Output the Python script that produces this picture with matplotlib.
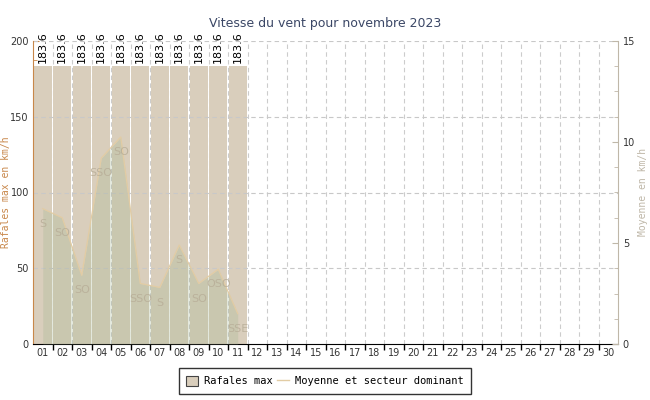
import matplotlib
matplotlib.use("Agg")
import matplotlib.pyplot as plt
import numpy as np
from matplotlib.patches import Patch
from matplotlib.lines import Line2D
from matplotlib.ticker import MultipleLocator, FixedLocator, NullFormatter

# donnees
jours = list(range(1, 31))
etiquettes = ["%02d" % j for j in jours]
rafales = [183.6] * 11
moyenne = [6.7, 6.25, 3.4, 9.2, 10.25, 3.0, 2.8, 4.9, 3.0, 3.7, 1.5]
secteurs = ["S", "SO", "SO", "SSO", "SO", "SSO", "S", "S", "SO", "OSO", "SSE"]

couleur_barre = "#d9cebc"
couleur_ligne = "#e2cca4"
couleur_gauche = "#c8874a"
couleur_droite = "#bfb7a8"
mono = "DejaVu Sans Mono"

fig = plt.figure(figsize=(6.5, 4), dpi=100)
ax = fig.add_axes([33 / 650, 56 / 400, 585 / 650, 303 / 400])
ax2 = ax.twinx()

# barres des rafales
jr = np.arange(1, len(rafales) + 1)
ax.bar(jr, rafales, width=0.9, color=couleur_barre, zorder=2)
for j, v in zip(jr, rafales):
    ax.text(j, v + 2, "%.1f" % v, rotation=90, ha="center", va="bottom",
            fontsize=8, color="black", zorder=5)

ax.set_xlim(0.5, 30.5)
ax.set_ylim(0, 200)
ax.yaxis.set_major_locator(MultipleLocator(50))
ax.yaxis.set_minor_locator(MultipleLocator(12.5))
ax.xaxis.set_major_locator(FixedLocator(np.arange(1.5, 30.5, 1)))
ax.xaxis.set_major_formatter(NullFormatter())
ax.xaxis.set_minor_locator(FixedLocator(jours))
ax.set_xticklabels(etiquettes, minor=True)
ax.tick_params(axis="x", which="major", direction="out", length=4, width=1, color="black")
ax.tick_params(axis="x", which="minor", length=0, labelsize=7, pad=3, labelcolor="#333333")
ax.tick_params(axis="y", which="both", direction="in", color=couleur_gauche, labelsize=7,
               labelcolor="#333333", pad=3)
ax.tick_params(axis="y", which="major", length=4)
ax.tick_params(axis="y", which="minor", length=3)

ax.grid(True, axis="x", which="major", color="#cccccc", linestyle=(0, (4, 3)), linewidth=0.8, zorder=1)
ax.set_axisbelow(True)
for yv in [50, 100, 150, 200]:
    ax.axhline(yv, color="#c8c8c8", linestyle=(0, (4, 3)), linewidth=0.8, zorder=2.5)

ax.spines["top"].set_visible(False)
ax.spines["left"].set_color(couleur_gauche)
ax.spines["bottom"].set_color("black")
ax.spines["right"].set_visible(False)

# moyenne et secteur
ax2.set_ylim(0, 15)
ax2.fill_between(jr, moyenne, color="#a7b794", alpha=0.3, linewidth=0, zorder=3)
ax2.plot(jr, moyenne, color=couleur_ligne, linewidth=0.9, zorder=4)
for j, m, s in zip(jr, moyenne, secteurs):
    ax2.text(j, m - 0.75, s, ha="center", va="center", fontsize=8, color="#b8ae98",
             alpha=0.85, zorder=5)
ax2.yaxis.set_major_locator(MultipleLocator(5))
ax2.yaxis.set_minor_locator(MultipleLocator(1.25))
ax2.tick_params(axis="y", which="both", direction="in", color=couleur_droite, labelsize=7,
                labelcolor="#333333")
ax2.tick_params(axis="y", which="major", length=4)
ax2.tick_params(axis="y", which="minor", length=3)
for s in ["top", "left", "bottom"]:
    ax2.spines[s].set_visible(False)
ax2.spines["right"].set_color(couleur_droite)

# titres des axes places a la main pour rester dans l'image
fig.text(6 / 650, 1 - 192 / 400, "Rafales max en km/h", rotation=90, ha="center", va="center",
         fontsize=7, family=mono, color=couleur_gauche)
fig.text(643 / 650, 1 - 192 / 400, "Moyenne en km/h", rotation=90, ha="center", va="center",
         fontsize=7, family=mono, color=couleur_droite)

fig.text(325 / 650, 1 - 24 / 400, "Vitesse du vent pour novembre 2023", ha="center", va="center",
         fontsize=9, color="#3b4766")

poignees = [Patch(facecolor=couleur_barre, edgecolor="#444444", linewidth=0.8),
            Line2D([0], [0], color=couleur_ligne, linewidth=1)]
leg = fig.legend(poignees, ["Rafales max", "Moyenne et secteur dominant"], loc="center",
                 bbox_to_anchor=(325 / 650, 1 - 381 / 400), ncol=2, frameon=True, fancybox=False,
                 prop={"family": mono, "size": 7.5}, handlelength=1.1, handleheight=1.1,
                 columnspacing=0.4, handletextpad=0.6, borderpad=0.7)
leg.get_frame().set_edgecolor("black")
leg.get_frame().set_linewidth(1)

fig.savefig("out.png", dpi=100)
